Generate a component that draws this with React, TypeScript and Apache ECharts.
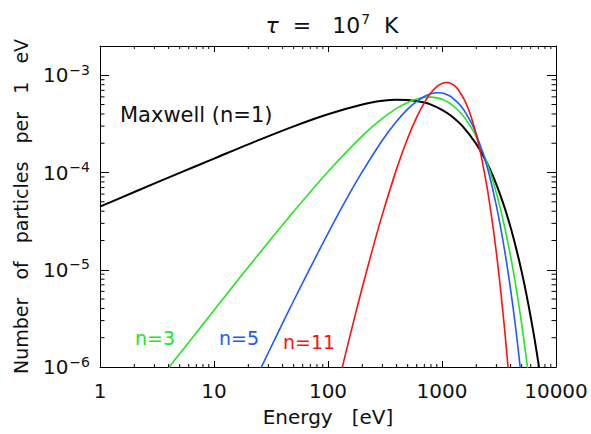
import React, { useEffect, useRef } from "react";
import * as echarts from "echarts";

// ---- data ----
const maxwellE = [1, 2, 5, 10, 20, 50, 100, 200, 300, 400, 500, 600, 700, 800, 1000, 1200, 1500, 2000, 2500, 3000, 3500, 4000, 4500, 5000, 5500, 6000, 6500, 7000, 7500];
const maxwellF = [4.46e-5, 6.30e-5, 9.92e-5, 1.39e-4, 1.95e-4, 2.98e-4, 3.97e-4, 5.00e-4, 5.46e-4, 5.61e-4, 5.58e-4, 5.45e-4, 5.24e-4, 4.99e-4, 4.42e-4, 3.84e-4, 3.03e-4, 1.96e-4, 1.23e-4, 7.52e-5, 4.54e-5, 2.72e-5, 1.61e-5, 9.52e-6, 5.59e-6, 3.27e-6, 1.91e-6, 1.11e-6, 6.4e-7];

const n3E = [4, 5, 10, 20, 50, 100, 200, 300, 400, 500, 600, 700, 800, 900, 1000, 1200, 1500, 1800, 2000, 2500, 3000, 3500, 4000, 4500, 5000, 5500, 6000];
const n3F = [9.83e-7, 1.37e-6, 3.84e-6, 1.07e-5, 3.97e-5, 1.02e-4, 2.38e-4, 3.60e-4, 4.57e-4, 5.26e-4, 5.70e-4, 5.92e-4, 5.96e-4, 5.86e-4, 5.66e-4, 5.05e-4, 3.95e-4, 2.91e-4, 2.31e-4, 1.23e-4, 6.14e-5, 2.94e-5, 1.37e-5, 6.20e-6, 2.76e-6, 1.21e-6, 5.2e-7];

const n5E = [25, 30, 40, 50, 70, 100, 150, 200, 300, 400, 500, 600, 700, 800, 900, 1000, 1100, 1200, 1500, 1800, 2000, 2500, 3000, 3500, 4000, 4500, 5000];
const n5F = [9.08e-7, 1.41e-6, 2.82e-6, 4.80e-6, 1.05e-5, 2.37e-5, 5.71e-5, 1.02e-4, 2.15e-4, 3.37e-4, 4.49e-4, 5.40e-4, 6.06e-4, 6.45e-4, 6.61e-4, 6.56e-4, 6.35e-4, 6.02e-4, 4.67e-4, 3.27e-4, 2.47e-4, 1.12e-4, 4.54e-5, 1.72e-5, 6.22e-6, 2.16e-6, 7.2e-7];

const n11E = [130, 150, 170, 200, 250, 300, 400, 500, 600, 700, 800, 900, 1000, 1100, 1200, 1300, 1400, 1600, 1800, 2000, 2200, 2500, 2800, 3000, 3200, 3500, 3750, 4000];
const n11F = [8.77e-7, 1.74e-6, 3.14e-6, 6.60e-6, 1.75e-5, 3.71e-5, 1.09e-4, 2.25e-4, 3.71e-4, 5.24e-4, 6.61e-4, 7.64e-4, 8.25e-4, 8.43e-4, 8.22e-4, 7.72e-4, 7.02e-4, 5.35e-4, 3.74e-4, 2.44e-4, 1.51e-4, 6.75e-5, 2.78e-5, 1.49e-5, 7.76e-6, 2.81e-6, 1.17e-6, 4.7e-7];

const seriesNames = ["Maxwell (n=1)", "n=3", "n=5", "n=11"];
const xMin = 1;
const xMax = 10000;
const yMin = 1e-6;
const yMax = 2e-3;
const xDecades = [1, 10, 100, 1000];
const yDecades = [1e-6, 1e-5, 1e-4, 1e-3];
const minorMultipliers = [2, 3, 4, 5, 6, 7, 8, 9];

const FONT = "DejaVu Sans";
const COLORS = ["#000000", "#22e622", "#1e5aff", "#ff1010"];

const zip = (xs: number[], ys: number[]) => xs.map((x, i) => [x, ys[i]]);

export default function App() {
  const ref = useRef<HTMLDivElement>(null);
  useEffect(() => {
    if (!ref.current) return;
    const chart = echarts.init(ref.current, null, { renderer: "svg" });

    const xMinor = xDecades.flatMap((d) => minorMultipliers.map((m) => m * d)).filter((v) => v < xMax);
    const yMinor = yDecades.flatMap((d) => minorMultipliers.map((m) => m * d)).filter((v) => v < yMax * 0.999);

    const isPow = (v: number) => {
      const l = Math.log10(v);
      return Math.abs(l - Math.round(l)) < 1e-6;
    };

    const lineSeries = (name: string, data: number[][], color: string, width: number) => ({
      name,
      type: "line",
      data,
      xAxisIndex: 0,
      yAxisIndex: 0,
      showSymbol: false,
      symbol: "none",
      smooth: 0.3,
      clip: true,
      lineStyle: { color, width },
      z: 3,
    });

    const option: any = {
      animation: false,
      backgroundColor: "#ffffff",
      title: {
        text: "{t|τ}  =   10{s|7}  K",
        left: 327,
        top: 7,
        textAlign: "center",
        textStyle: {
          fontFamily: FONT,
          fontSize: 22,
          fontWeight: "normal",
          color: "#111",
          rich: {
            t: { fontFamily: FONT, fontSize: 22, fontStyle: "italic", color: "#111" },
            s: { fontFamily: FONT, fontSize: 14, color: "#111", padding: [0, 0, 12, 1] },
          },
        },
      },
      grid: { left: 100, right: 35, top: 46, bottom: 67, containLabel: false },
      xAxis: [
        {
          type: "log",
          logBase: 10,
          min: xMin,
          max: xMax,
          position: "bottom",
          name: "Energy   [eV]",
          nameLocation: "middle",
          nameGap: 40,
          nameTextStyle: { fontFamily: FONT, fontSize: 20, color: "#111" },
          axisLine: { show: true, lineStyle: { color: "#000", width: 1 } },
          axisTick: { show: true, inside: true, length: 6, lineStyle: { color: "#000" } },
          minorTick: { show: false },
          splitLine: { show: false },
          axisLabel: {
            fontFamily: FONT,
            fontSize: 20,
            color: "#111",
            margin: 14,
            formatter: (v: number) => (isPow(v) ? String(Math.round(v)) : ""),
          },
        },
        {
          type: "log",
          logBase: 10,
          min: xMin,
          max: xMax,
          position: "top",
          axisLine: { show: true, lineStyle: { color: "#000", width: 1 } },
          axisTick: { show: true, inside: true, length: 6, lineStyle: { color: "#000" } },
          axisLabel: { show: false },
          splitLine: { show: false },
        },
      ],
      yAxis: [
        {
          type: "log",
          logBase: 10,
          min: yMin,
          max: yMax,
          position: "left",
          name: "Number   of   particles   per   1   eV",
          nameLocation: "middle",
          nameGap: 70,
          nameTextStyle: { fontFamily: FONT, fontSize: 19, color: "#111" },
          axisLine: { show: true, lineStyle: { color: "#000", width: 1 } },
          axisTick: { show: true, inside: true, length: 9, lineStyle: { color: "#000" } },
          splitLine: { show: false },
          axisLabel: {
            margin: 10,
            formatter: (v: number) => {
              if (!isPow(v)) return "";
              const e = Math.round(Math.log10(v));
              return "{b|10}{s|−" + Math.abs(e) + "}";
            },
            rich: {
              b: { fontFamily: FONT, fontSize: 20, color: "#111" },
              s: { fontFamily: FONT, fontSize: 14, color: "#111", padding: [0, 0, 11, 1] },
            },
          },
        },
        {
          type: "log",
          logBase: 10,
          min: yMin,
          max: yMax,
          position: "right",
          axisLine: { show: true, lineStyle: { color: "#000", width: 1 } },
          axisTick: { show: true, inside: true, length: 9, lineStyle: { color: "#000" } },
          axisLabel: { show: false },
          splitLine: { show: false },
        },
      ],
      series: [
        lineSeries(seriesNames[0], zip(maxwellE, maxwellF), COLORS[0], 2),
        lineSeries(seriesNames[1], zip(n3E, n3F), COLORS[1], 1.6),
        lineSeries(seriesNames[2], zip(n5E, n5F), COLORS[2], 1.6),
        lineSeries(seriesNames[3], zip(n11E, n11F), COLORS[3], 1.6),
        {
          type: "custom",
          xAxisIndex: 0,
          yAxisIndex: 0,
          silent: true,
          clip: false,
          data: xMinor.map((v) => [v, 1e-4]),
          renderItem: (params: any, api: any) => {
            const b = api.coord([api.value(0), yMin]);
            const t = api.coord([api.value(0), yMax]);
            const st = { stroke: "#000", lineWidth: 1 };
            return {
              type: "group",
              children: [
                { type: "line", shape: { x1: b[0], y1: b[1], x2: b[0], y2: b[1] - 3 }, style: st },
                { type: "line", shape: { x1: t[0], y1: t[1], x2: t[0], y2: t[1] + 3 }, style: st },
              ],
            };
          },
          z: 4,
        },
        {
          type: "custom",
          xAxisIndex: 0,
          yAxisIndex: 0,
          silent: true,
          clip: false,
          data: yMinor.map((v) => [10, v]),
          renderItem: (params: any, api: any) => {
            const l = api.coord([xMin, api.value(1)]);
            const r = api.coord([xMax, api.value(1)]);
            const st = { stroke: "#000", lineWidth: 1 };
            return {
              type: "group",
              children: [
                { type: "line", shape: { x1: l[0], y1: l[1], x2: l[0] + 4.5, y2: l[1] }, style: st },
                { type: "line", shape: { x1: r[0], y1: r[1], x2: r[0] - 4.5, y2: r[1] }, style: st },
              ],
            };
          },
          z: 4,
        },
      ],
      graphic: [
        { type: "text", left: 120, top: 104, style: { text: seriesNames[0], fontFamily: FONT, fontSize: 21, fill: "#111" } },
        { type: "text", left: 135, top: 328, style: { text: seriesNames[1], fontFamily: FONT, fontSize: 19, fill: COLORS[1] } },
        { type: "text", left: 219, top: 328, style: { text: seriesNames[2], fontFamily: FONT, fontSize: 19, fill: COLORS[2] } },
        { type: "text", left: 283, top: 332, style: { text: seriesNames[3], fontFamily: FONT, fontSize: 19, fill: COLORS[3] } },
      ],
    };

    chart.setOption(option);
    return () => chart.dispose();
  }, []);

  return <div ref={ref} style={{ position: "absolute", left: 0, top: 0, width: 591, height: 434 }} />;
}
